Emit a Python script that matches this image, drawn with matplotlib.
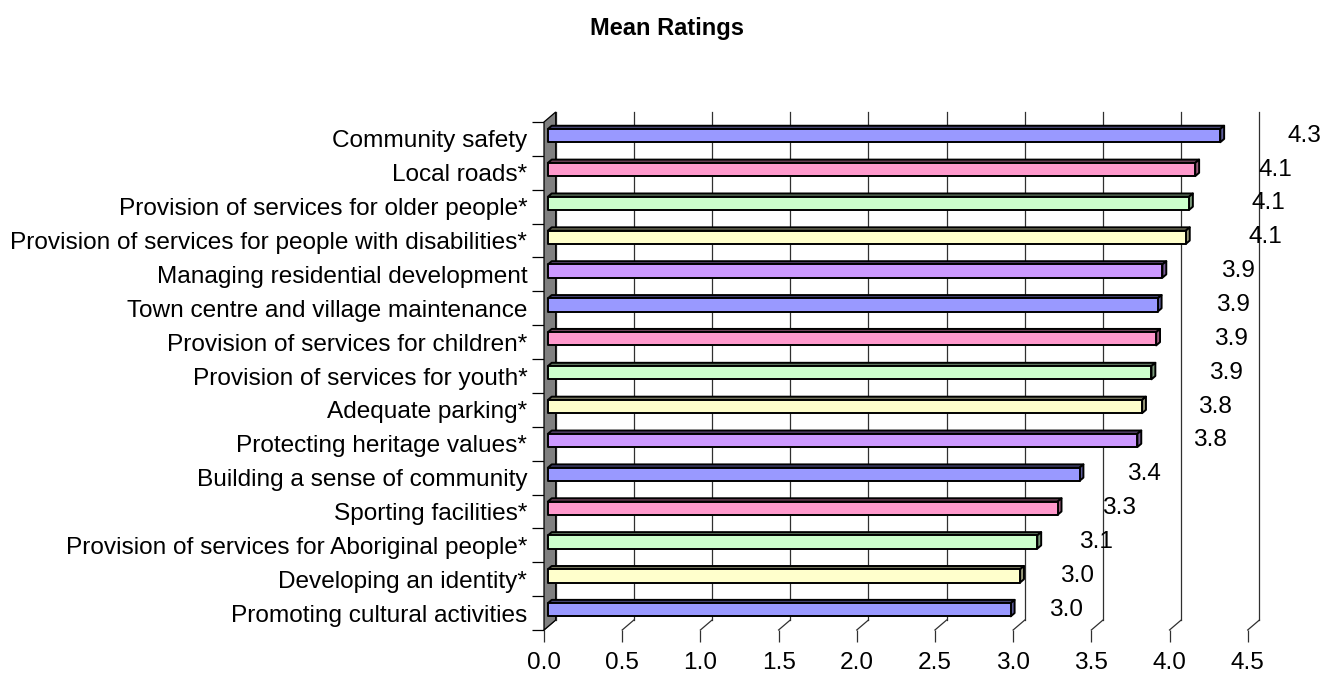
import matplotlib
matplotlib.use("Agg")
import matplotlib.pyplot as plt
from matplotlib.patches import Polygon, Rectangle
import numpy as np

plt.rcParams['font.family'] = ['Liberation Sans', 'DejaVu Sans']

categories = [
    "Community safety",
    "Local roads*",
    "Provision of services for older people*",
    "Provision of services for people with disabilities*",
    "Managing residential development",
    "Town centre and village maintenance",
    "Provision of services for children*",
    "Provision of services for youth*",
    "Adequate parking*",
    "Protecting heritage values*",
    "Building a sense of community",
    "Sporting facilities*",
    "Provision of services for Aboriginal people*",
    "Developing an identity*",
    "Promoting cultural activities",
]
values = [4.30, 4.14, 4.10, 4.08, 3.93, 3.90, 3.89, 3.86, 3.80, 3.77,
          3.40, 3.26, 3.13, 3.02, 2.96]
xticks = [0.0, 0.5, 1.0, 1.5, 2.0, 2.5, 3.0, 3.5, 4.0, 4.5]

face_colors = ["#9999FF", "#FF99CC", "#CCFFCC", "#FFFFCC", "#CC99FF",
               "#9999FF", "#FF99CC", "#CCFFCC", "#FFFFCC", "#CC99FF",
               "#9999FF", "#FF99CC", "#CCFFCC", "#FFFFCC", "#9999FF"]

FS = 17.6

W, H = 1325, 675
fig = plt.figure(figsize=(W / 100, H / 100), dpi=100)
x0, x1 = 544, 1247.7
yb, yt = 630, 122
ax = fig.add_axes([x0 / W, 1 - yb / H, (x1 - x0) / W, (yb - yt) / H])

n = len(categories)
xmax = 4.5
ax.set_xlim(0, xmax)
ax.set_ylim(-0.5, n - 0.5)
for s in ax.spines.values():
    s.set_visible(False)

# depth vector of the 3D box in data units
px_per_x = (x1 - x0) / xmax
px_per_y = (yb - yt) / n
DX = 11.7 / px_per_x
DY = 10.0 / px_per_y

grid_col = "#303030"
ypos = np.arange(n)[::-1]  # first category at top

# back wall gridlines + floor diagonals
for xv in xticks:
    ax.plot([xv + DX, xv + DX], [-0.5 + DY, n - 0.5 + DY], color=grid_col,
            lw=0.9, clip_on=False, zorder=1)
    ax.plot([xv, xv + DX], [-0.5, -0.5 + DY], color=grid_col, lw=0.9,
            clip_on=False, zorder=1)

# left side wall
wall = Polygon([(0, -0.5), (0, n - 0.5), (DX, n - 0.5 + DY), (DX, -0.5 + DY)],
               closed=True, facecolor="#808080", edgecolor="black", lw=0.9,
               clip_on=False, zorder=2)
ax.add_patch(wall)

# 3D bars
f, b = 0.33, 0.33
h = 0.39


def darken(c, k):
    c = np.array(matplotlib.colors.to_rgb(c))
    return tuple(c * k)


for yc, v, col in zip(ypos, values, face_colors):
    fx = f * DX
    fy = yc + f * DY
    bx, by = b * DX, b * DY
    top = Polygon([(fx, fy + h / 2), (fx + v, fy + h / 2),
                   (fx + v + bx, fy + h / 2 + by), (fx + bx, fy + h / 2 + by)],
                  closed=True, facecolor=darken(col, 0.45), edgecolor="black",
                  lw=1.4, joinstyle="round", clip_on=False, zorder=3)
    side = Polygon([(fx + v, fy - h / 2), (fx + v, fy + h / 2),
                    (fx + v + bx, fy + h / 2 + by), (fx + v + bx, fy - h / 2 + by)],
                   closed=True, facecolor=darken(col, 0.6), edgecolor="black",
                   lw=1.4, joinstyle="round", clip_on=False, zorder=3)
    front = Rectangle((fx, fy - h / 2), v, h, facecolor=col,
                      edgecolor="black", lw=1.4, joinstyle="round",
                      clip_on=False, zorder=4)
    ax.add_patch(top)
    ax.add_patch(side)
    ax.add_patch(front)
    # Excel places 3D data labels in perspective, further out for longer bars
    ax.text(1.135 * v - 0.02, fy, f"{v:.1f}", ha="center", va="center",
            fontsize=FS, color="black", clip_on=False, zorder=5)

# axes ticks and labels
ax.set_yticks(ypos)
ax.set_yticklabels(categories, fontsize=FS)
ax.set_yticks(np.arange(-0.5, n, 1.0), minor=True)
ax.tick_params(axis="y", which="major", length=0, pad=12)
ax.tick_params(axis="y", which="minor", length=8.6, width=0.9,
               color="black", direction="out")
ax.set_xticks(xticks)
ax.set_xticklabels([f"{t:.1f}" for t in xticks], fontsize=FS)
ax.tick_params(axis="x", which="major", length=8.6, width=0.9,
               color=grid_col, direction="out", pad=7)

fig.text(667 / W, 1 - 28 / H, "Mean Ratings", ha="center", va="center",
         fontsize=17, fontweight="bold")

fig.savefig("out.png", dpi=100, facecolor="white")
